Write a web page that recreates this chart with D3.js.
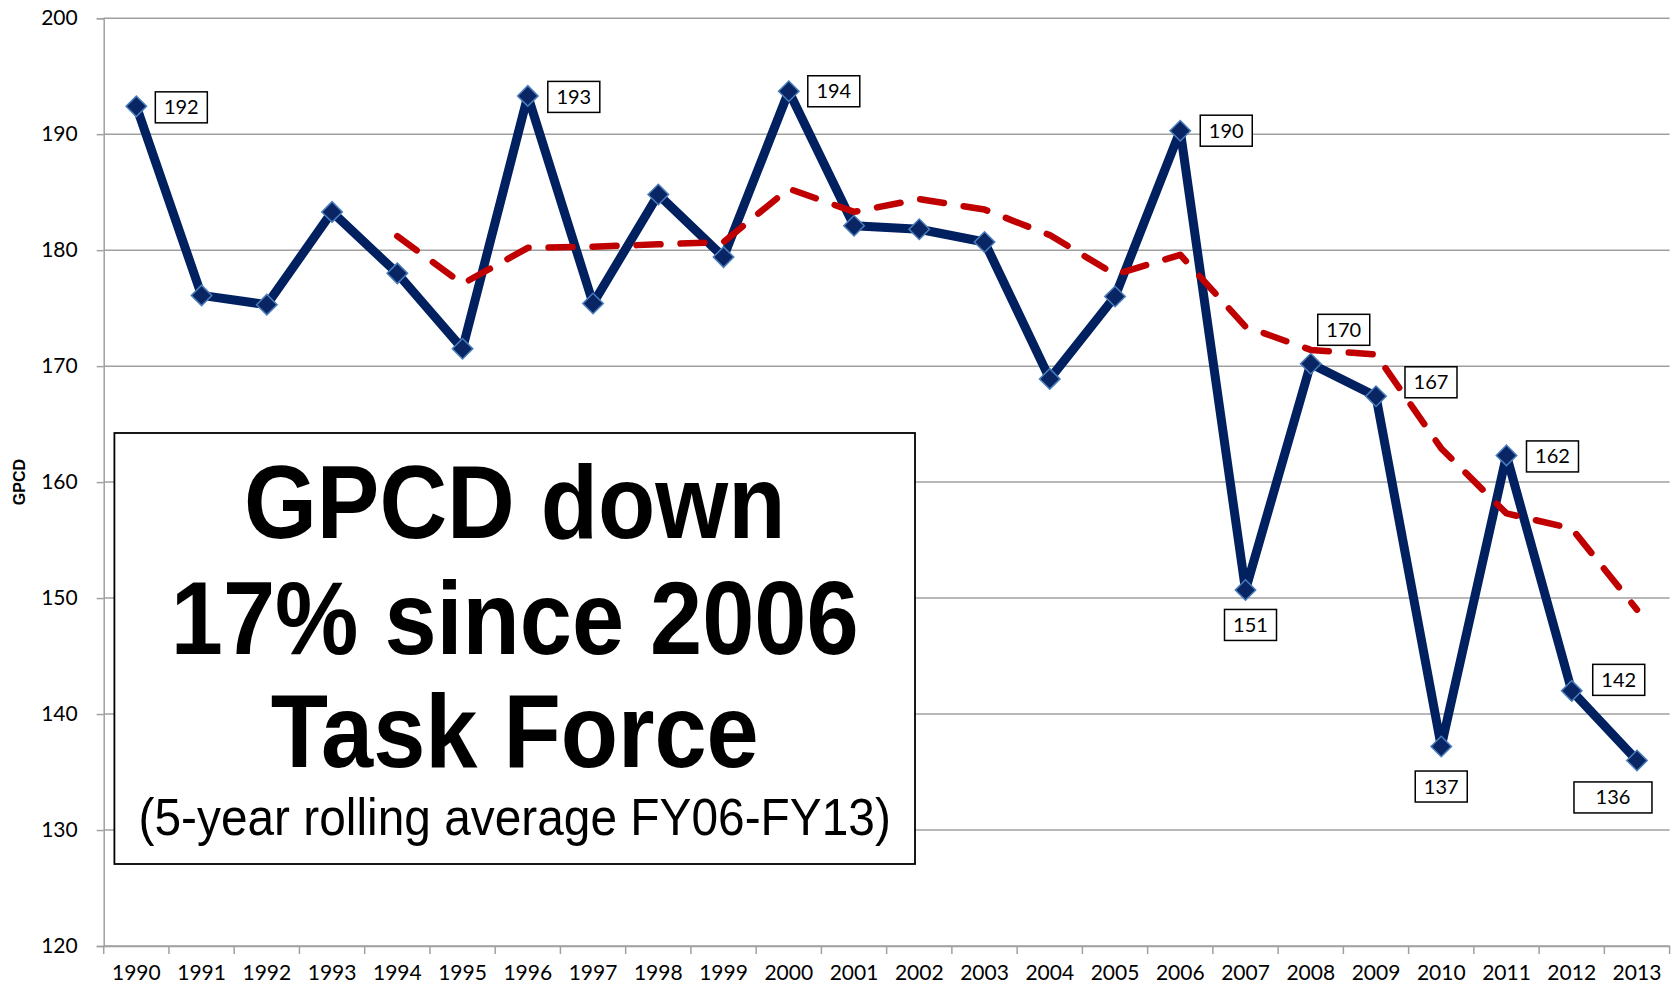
<!DOCTYPE html>
<html><head><meta charset="utf-8">
<script src="https://cdn.jsdelivr.net/npm/d3@7"></script>
<style>html,body{margin:0;padding:0;background:#fff;}svg{display:block;}</style>
</head><body>
<script>
const years = [1990,1991,1992,1993,1994,1995,1996,1997,1998,1999,2000,2001,2002,2003,2004,2005,2006,2007,2008,2009,2010,2011,2012,2013];
const gpcd = [192.4,176.1,175.3,183.3,178.0,171.5,193.3,175.4,184.8,179.4,193.7,182.1,181.8,180.7,168.9,176.0,190.3,150.7,170.2,167.4,137.2,162.3,142.0,136.0];
const avgYears = [1994,1995,1996,1997,1998,1999,2000,2001,2002,2003,2004,2005,2006,2007,2008,2009,2010,2011,2012,2013];
const rollingAvg = [181.2,177.1,180.2,180.3,180.5,180.7,185.3,183.3,184.4,183.5,181.3,177.9,179.6,173.4,171.4,171.0,162.9,157.3,156.0,149.0];
const labelYears = [1990,1996,2000,2006,2007,2008,2009,2010,2011,2012,2013];
const labelTexts = ["192","193","194","190","151","170","167","137","162","142","136"];
const yTicks = [120,130,140,150,160,170,180,190,200];
const yTitle = "GPCD";
const boxLines = ["GPCD down","17% since 2006","Task Force"];
const boxSub = "(5-year rolling average FY06-FY13)";

// label placement (dx, dy from point; box width)
const placement = {1990:[45,1,52],1996:[46,1,52],2000:[45,0,52],2006:[46,0,52],2007:[5,35,52],2008:[33,-34,52],2009:[55,-14,52],2010:[0,40,52],2011:[46,1,52],2012:[47,-11,52],2013:[-24,37,78]};

const W=1676,H=986;
const svg=d3.select("body").append("svg").attr("width",W).attr("height",H);
const L=103.7,R=1669.6,T=18.2,B=946;
const x=d3.scaleBand().domain(years).range([L,R]).padding(0);
const y=d3.scaleLinear().domain([120,200]).range([B,T]);
const cx=d=>x(d)+x.bandwidth()/2;
const grid="#a0a0a0";
const font="Lato, 'Open Sans', sans-serif";

// gridlines
svg.append("g").selectAll("line").data(yTicks).join("line")
  .attr("x1",L).attr("x2",R).attr("y1",d=>y(d)).attr("y2",d=>y(d))
  .attr("stroke",grid).attr("stroke-width",1.5);

// y axis
const ya=svg.append("g").attr("transform",`translate(${L},0)`)
  .call(d3.axisLeft(y).tickValues(yTicks).tickSize(7).tickPadding(19));
ya.select(".domain").attr("stroke",grid).attr("stroke-width",1.5);
ya.selectAll(".tick line").attr("stroke",grid).attr("stroke-width",1.5);
ya.selectAll("text").attr("font-family",font).attr("font-size",21).attr("fill","#000");

// x axis
const xa=svg.append("g").attr("transform",`translate(0,${B})`)
  .call(d3.axisBottom(x).tickSize(0).tickPadding(19));
xa.select(".domain").attr("stroke",grid).attr("stroke-width",1.5);
xa.selectAll("text").attr("font-family",font).attr("font-size",21).attr("fill","#000");
svg.append("g").selectAll("line").data(years.map(d=>x(d)).concat([x.range()[1]])).join("line")
  .attr("x1",d=>d).attr("x2",d=>d).attr("y1",B).attr("y2",B+8)
  .attr("stroke",grid).attr("stroke-width",1.5);

// y title
svg.append("text").attr("transform",`translate(25,${(T+B)/2}) rotate(-90)`)
  .attr("text-anchor","middle").attr("font-family","'Liberation Sans', Arial, sans-serif")
  .attr("font-weight","bold").attr("font-size",16).text(yTitle);

// text box
const bx=114.4,by=433,bw=800.6,bh=431;
svg.append("rect").attr("x",bx).attr("y",by).attr("width",bw).attr("height",bh)
  .attr("fill","#fff").attr("stroke","#000").attr("stroke-width",1.8);
const bcx=bx+bw/2;
const baselines=[538,654,767];
boxLines.forEach((t,i)=>{
  svg.append("text").attr("transform",`translate(${bcx},${baselines[i]}) scale(0.91,1)`)
   .attr("text-anchor","middle")
   .attr("font-family","'Liberation Sans', Arial, sans-serif").attr("font-weight","bold")
   .attr("font-size",103).attr("fill","#000").text(t);
});
svg.append("text").attr("transform",`translate(${bcx},835) scale(0.92,1)`).attr("text-anchor","middle")
  .attr("font-family","'Liberation Sans', Arial, sans-serif")
  .attr("font-size",52).attr("fill","#000").text(boxSub);

// main line
svg.append("path").datum(years.map((d,i)=>[cx(d),y(gpcd[i])]))
  .attr("d",d3.line()).attr("fill","none").attr("stroke","#002060")
  .attr("stroke-width",9).attr("stroke-linejoin","round");

// rolling average
svg.append("path").datum(avgYears.map((d,i)=>[cx(d),y(rollingAvg[i])]))
  .attr("d",d3.line()).attr("fill","none").attr("stroke","#C00000")
  .attr("stroke-width",6.5).attr("stroke-linecap","round").attr("stroke-linejoin","round")
  .attr("stroke-dasharray","24,20");

// markers
svg.append("g").selectAll("path").data(years).join("path")
  .attr("d",d3.symbol().type(d3.symbolSquare).size(210))
  .attr("transform",(d,i)=>`translate(${cx(d)},${y(gpcd[i])}) rotate(45)`)
  .attr("fill","#0a2563").attr("stroke","#4a7ebb").attr("stroke-width",1.5);

// data labels
labelYears.forEach((yr,i)=>{
  const idx=years.indexOf(yr);
  const p=placement[yr];
  const px=cx(yr)+p[0], py=y(gpcd[idx])+p[1];
  const w=p[2], h=31;
  svg.append("rect").attr("x",px-w/2).attr("y",py-h/2).attr("width",w).attr("height",h)
    .attr("fill","#fff").attr("stroke","#000").attr("stroke-width",1.5);
  svg.append("text").attr("x",px).attr("y",py+7).attr("text-anchor","middle")
    .attr("font-family",font).attr("font-size",20).attr("fill","#000").text(labelTexts[i]);
});
</script>
</body></html>
